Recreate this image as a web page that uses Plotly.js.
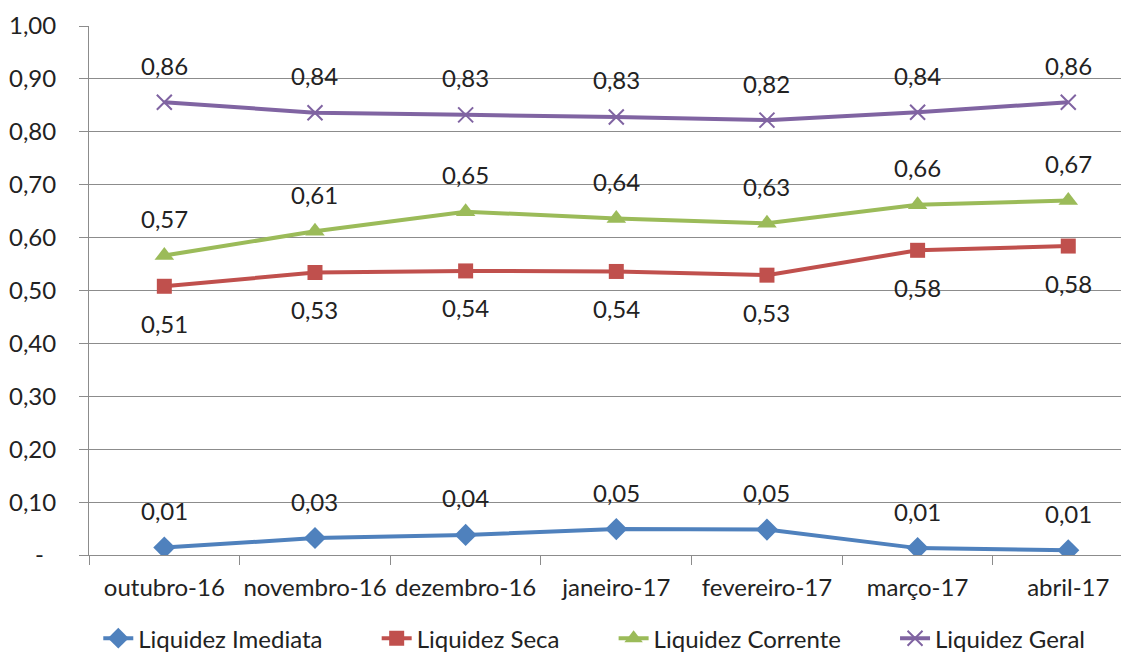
<!DOCTYPE html>
<html>
<head>
<meta charset="utf-8">
<script src="https://cdn.plot.ly/plotly-3.0.1.min.js"></script>
<style>html,body{margin:0;padding:0;background:#fff;}#chart{width:1121px;height:655px;}</style>
</head>
<body>
<div id="chart"></div>
<script>
var categories = ["outubro-16", "novembro-16", "dezembro-16", "janeiro-17", "fevereiro-17", "março-17", "abril-17"];
var liquidezImediata = [0.014, 0.032, 0.038, 0.049, 0.048, 0.013, 0.009];
var liquidezSeca = [0.508, 0.534, 0.537, 0.536, 0.529, 0.576, 0.584];
var liquidezCorrente = [0.566, 0.612, 0.649, 0.636, 0.627, 0.662, 0.670];
var liquidezGeral = [0.856, 0.836, 0.832, 0.828, 0.822, 0.837, 0.856];
var seriesNames = ["Liquidez Imediata", "Liquidez Seca", "Liquidez Corrente", "Liquidez Geral"];
var yTickVals = [0, 0.1, 0.2, 0.3, 0.4, 0.5, 0.6, 0.7, 0.8, 0.9, 1.0];
var yTickText = ["-\u00a0\u00a0", "0,10", "0,20", "0,30", "0,40", "0,50", "0,60", "0,70", "0,80", "0,90", "1,00"];

var FONT = "Lato, 'Open Sans', sans-serif";
var TXT = "#222222";
var GRID = "#8c8c8c";

var seriesData = [liquidezImediata, liquidezSeca, liquidezCorrente, liquidezGeral];
var colors = ["#4F81BD", "#C0504D", "#9BBB59", "#8064A2"];
var symbols = ["diamond", "square", "triangle-up", "x-thin"];
var sizes = [17, 15, 17, 15];
var labelShift = [37, -37, 37, 37];
var pad = "\u00a0\u00a0\u00a0\u00a0\u00a0\u00a0\u00a0\u00a0";

var traces = seriesData.map(function (vals, i) {
  var m = {symbol: symbols[i], size: sizes[i], color: colors[i]};
  if (symbols[i] === "x-thin") { m.line = {color: colors[i], width: 2}; }
  return {
    type: "scatter", mode: "lines+markers",
    x: categories, y: vals,
    name: seriesNames[i] + (i < 3 ? pad : ""),
    line: {color: colors[i], width: 4},
    marker: m,
    hoverinfo: "skip"
  };
});

var annotations = [];
seriesData.forEach(function (vals, i) {
  vals.forEach(function (v, j) {
    annotations.push({
      x: categories[j], y: v, xref: "x", yref: "y",
      text: v.toFixed(2).replace(".", ","),
      showarrow: false, xanchor: "center", yanchor: "middle",
      yshift: labelShift[i],
      font: {family: FONT, size: 24, color: TXT}
    });
  });
});

var layout = {
  width: 1121, height: 655,
  margin: {l: 89, r: 0, t: 26, b: 100, autoexpand: false},
  paper_bgcolor: "#ffffff", plot_bgcolor: "#ffffff",
  font: {family: FONT, size: 24, color: TXT},
  showlegend: true,
  legend: {
    orientation: "h", xref: "paper", yref: "paper",
    x: 0.009, y: -0.158, xanchor: "left", yanchor: "middle",
    font: {family: FONT, size: 24, color: TXT},
    bgcolor: "rgba(0,0,0,0)", borderwidth: 0
  },
  xaxis: {
    type: "category", range: [-0.5, 6.35],
    showgrid: false, zeroline: false,
    showline: true, linecolor: GRID, linewidth: 1,
    ticks: "outside", ticklen: 9, tickcolor: GRID, tickwidth: 1,
    tickson: "boundaries", ticklabelstandoff: 11, tickangle: 0,
    tickfont: {family: FONT, size: 24, color: TXT},
    fixedrange: true
  },
  yaxis: {
    range: [0, 1.0], tickmode: "array", tickvals: yTickVals, ticktext: yTickText,
    showgrid: true, gridcolor: GRID, gridwidth: 1, zeroline: false,
    showline: true, linecolor: GRID, linewidth: 1,
    ticks: "outside", ticklen: 9, tickcolor: GRID, tickwidth: 1,
    ticklabelstandoff: 18,
    tickfont: {family: FONT, size: 24, color: TXT},
    fixedrange: true
  },
  annotations: annotations
};

Plotly.newPlot("chart", traces, layout, {displayModeBar: false, staticPlot: true});
</script>
</body>
</html>
